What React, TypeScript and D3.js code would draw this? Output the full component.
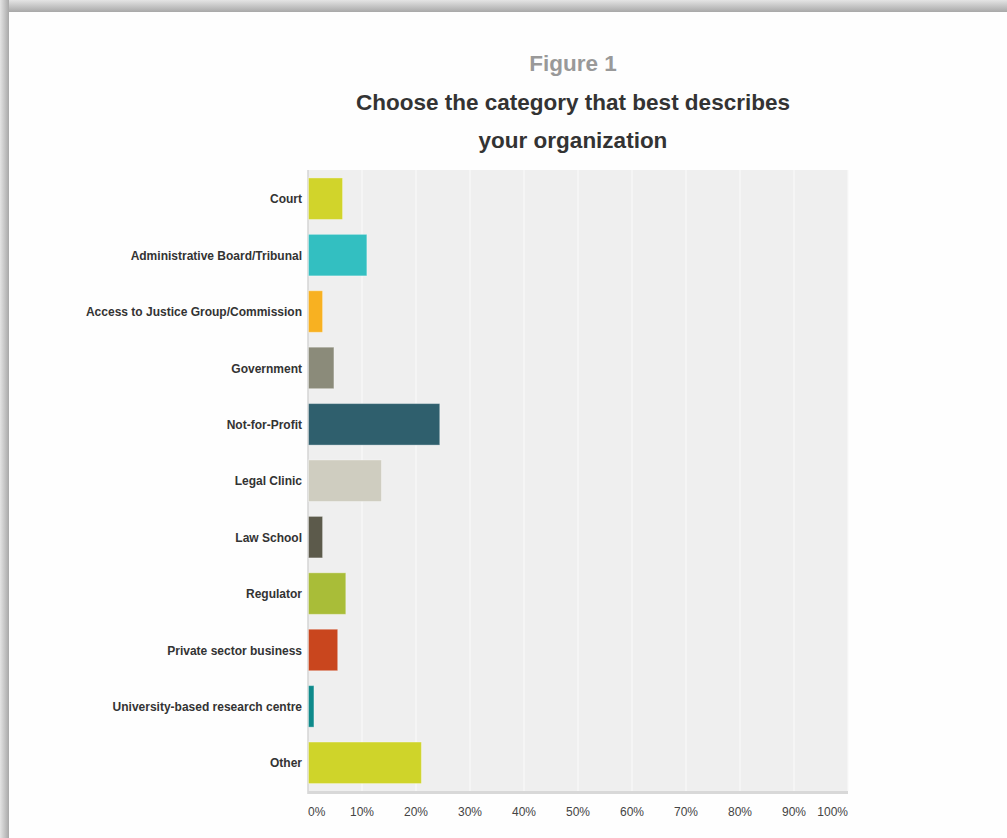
import React from "react";
import * as d3 from "d3";

const categories = [
  "Court",
  "Administrative Board/Tribunal",
  "Access to Justice Group/Commission",
  "Government",
  "Not-for-Profit",
  "Legal Clinic",
  "Law School",
  "Regulator",
  "Private sector business",
  "University-based research centre",
  "Other",
];
const values = [6.4, 10.9, 2.7, 4.8, 24.4, 13.6, 2.7, 7.0, 5.5, 1.1, 21.0];
const barColors = [
  "#d1d42b",
  "#33bfc1",
  "#f8b121",
  "#8b8b7a",
  "#2f5f6d",
  "#cfcdc0",
  "#5c5a4b",
  "#a9bd38",
  "#c9461e",
  "#0e8a8b",
  "#cfd42a",
];
const tickValues = [0, 10, 20, 30, 40, 50, 60, 70, 80, 90, 100];
const titleLines = ["Choose the category that best describes", "your organization"];

const W = 1007;
const H = 838;
const plot = { left: 308, right: 848, top: 170, bottom: 791 };
const FONT = "'Liberation Sans', Arial, sans-serif";

export default function App() {
  const x = d3.scaleLinear().domain([0, 100]).range([plot.left, plot.right]);
  const y = d3
    .scaleBand<string>()
    .domain(categories)
    .range([plot.top + 0.5, plot.bottom])
    .paddingInner(0.264)
    .paddingOuter(0.132);

  return (
    <svg
      width={W}
      height={H}
      style={{ position: "fixed", left: 0, top: 0, display: "block" }}
      fontFamily={FONT}
    >
      <defs>
        <linearGradient id="shTop" x1="0" y1="0" x2="0" y2="1">
          <stop offset="0" stopColor="#e4e4e4" />
          <stop offset="1" stopColor="#a8a8a8" />
        </linearGradient>
        <linearGradient id="shLeft" x1="0" y1="0" x2="1" y2="0">
          <stop offset="0" stopColor="#e4e4e4" />
          <stop offset="1" stopColor="#a8a8a8" />
        </linearGradient>
      </defs>
      <rect x={0} y={0} width={W} height={H} fill="#ffffff" />
      <rect x={0} y={0} width={W} height={12} fill="url(#shTop)" />
      <rect x={0} y={0} width={9} height={H} fill="url(#shLeft)" />
      <rect x={9} y={12} width={W - 9} height={H - 12} fill="#fefefe" />

      {/* titles */}
      <text x={573} y={71} textAnchor="middle" fontSize={22.5} fontWeight="bold" fill="#999999">
        Figure 1
      </text>
      {titleLines.map((t, i) => (
        <text
          key={t}
          x={573}
          y={110 + i * 38}
          textAnchor="middle"
          fontSize={22.5}
          fontWeight="bold"
          fill="#333333"
        >
          {t}
        </text>
      ))}

      {/* plot background */}
      <rect
        x={plot.left}
        y={plot.top}
        width={plot.right - plot.left}
        height={plot.bottom - plot.top}
        fill="#efefef"
      />
      {tickValues.slice(1).map((t) => (
        <line
          key={"g" + t}
          x1={x(t)}
          x2={x(t)}
          y1={plot.top}
          y2={plot.bottom}
          stroke="#f9f9f9"
          strokeWidth={1.2}
        />
      ))}
      <line x1={plot.left} x2={plot.left} y1={plot.top} y2={plot.bottom + 3} stroke="#d4d4d4" strokeWidth={1.5} />
      <line x1={plot.left} x2={plot.right} y1={plot.bottom + 1.5} y2={plot.bottom + 1.5} stroke="#d8d8d8" strokeWidth={3} />

      {/* bars */}
      {categories.map((c, i) => (
        <rect
          key={c}
          x={x(0) + 0.5}
          y={y(c)}
          width={x(values[i]) - x(0) - 0.5}
          height={y.bandwidth()}
          fill={barColors[i]}
          stroke="#ffffff"
          strokeOpacity={0.35}
          strokeWidth={1}
        />
      ))}

      {/* category labels */}
      {categories.map((c) => (
        <text
          key={"l" + c}
          x={302}
          y={(y(c) as number) + y.bandwidth() / 2 + 0.5}
          dy="0.35em"
          textAnchor="end"
          fontSize={12}
          fontWeight="bold"
          fill="#333333"
        >
          {c}
        </text>
      ))}

      {/* tick labels */}
      {tickValues.map((t, i) => (
        <text
          key={"t" + t}
          x={x(t)}
          y={816}
          textAnchor={i === 0 ? "start" : i === tickValues.length - 1 ? "end" : "middle"}
          fontSize={12}
          fill="#444444"
        >
          {t + "%"}
        </text>
      ))}
    </svg>
  );
}
